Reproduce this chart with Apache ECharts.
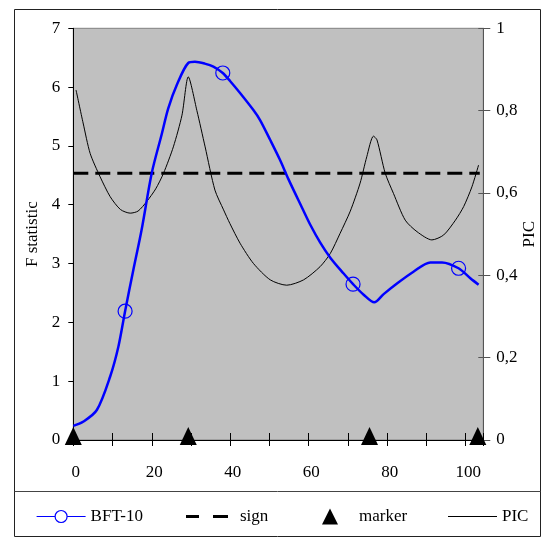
<!DOCTYPE html>
<html>
<head>
<meta charset="utf-8">
<script src="https://cdn.jsdelivr.net/npm/echarts@6/dist/echarts.min.js"></script>
<style>html,body{margin:0;padding:0;background:#fff}#c{width:541px;height:538px}</style>
</head>
<body>
<div id="c"></div>
<script>
// ---- data ----
const bftData = [[0,0.24],[2.5,0.31],[6,0.51],[9.4,1.08],[11.5,1.59],[13.2,2.19],[15.3,2.89],[17.4,3.57],[20,4.54],[22.5,5.19],[24.2,5.64],[26.4,6.04],[29.3,6.41],[31,6.43],[33.5,6.4],[35.7,6.35],[38.1,6.24],[40,6.1],[42.5,5.9],[45.9,5.61],[47.6,5.44],[50.2,5.1],[52.7,4.76],[54.8,4.44],[58.3,3.95],[60.4,3.66],[62.9,3.36],[65.5,3.1],[68.9,2.83],[71.3,2.65],[74,2.47],[76.7,2.34],[79.1,2.48],[82.5,2.66],[86.7,2.86],[91,3.02],[94,3.02],[98.2,2.92],[101.2,2.75],[103.3,2.64]];
const bftMarkerX = [13.2, 38.1, 71.3, 98.2];
const picData = [[0.7,0.85],[2.5,0.77],[4.3,0.696],[6.8,0.64],[9.4,0.591],[12,0.56],[14.5,0.551],[16.5,0.556],[18.7,0.579],[21,0.61],[23,0.648],[25.5,0.712],[27.7,0.789],[29.3,0.882],[31.5,0.80],[33.6,0.712],[36.1,0.607],[38.3,0.559],[39.9,0.526],[42.5,0.478],[45.9,0.429],[50.2,0.389],[54.4,0.376],[58.7,0.389],[62.9,0.421],[65.5,0.453],[68,0.502],[70.6,0.556],[73.1,0.624],[74.8,0.688],[76.5,0.738],[77.4,0.729],[79.5,0.648],[81.6,0.599],[84.6,0.534],[87.6,0.506],[91.4,0.486],[94.4,0.498],[97.4,0.534],[99.5,0.567],[101.6,0.615],[103.3,0.668]];
const signValue = 4.535;
const signX = [0, 103.6];
const markerX = [0, 29.3, 75.5, 103.1];
const xLabels = [0, 20, 40, 60, 80, 100];

// ---- chart ----
const FONT = 'Liberation Serif';
const chart = echarts.init(document.getElementById('c'), null, {renderer:'canvas'});
const gL = 73.3, gT = 28.3, gRx = 483.3, gBy = 440;
const gW = gRx - gL, gH = gBy - gT;

const txt = {fontFamily: FONT, fontSize: 17, color: '#000'};

chart.setOption({
  animation: false,
  backgroundColor: '#fff',
  textStyle: {fontFamily: FONT},
  grid: {left: gL, top: gT, width: gW, height: gH, show: true, outerBoundsMode: 'none', containLabel: false,
         backgroundColor: '#c0c0c0', borderColor: '#808080', borderWidth: 1},
  xAxis: [
    {type: 'value', min: 0, max: 104.5, interval: 10, position: 'bottom',
     axisLine: {show: true, onZero: false, lineStyle: {color: '#000', width: 1}},
     axisTick: {show: true, inside: false, length: 6, lineStyle: {color: '#000'}},
     axisLabel: Object.assign({margin: 24, padding: [0,0,0,5], formatter: v => xLabels.indexOf(v) >= 0 ? String(v) : ''}, txt),
     splitLine: {show: false}},
    {type: 'value', min: 0, max: 104.5, interval: 10, position: 'top', offset: -gH,
     axisLine: {show: false, onZero: false},
     axisTick: {show: true, inside: false, length: 7, lineStyle: {color: '#000'}},
     axisLabel: {show: false}, splitLine: {show: false}}
  ],
  yAxis: [
    {type: 'value', min: 0, max: 7, interval: 1, position: 'left',
     name: 'F statistic', nameLocation: 'middle', nameGap: 32, nameRotate: 90, nameMoveOverlap: false,
     nameTextStyle: txt,
     axisLine: {show: true, onZero: false, lineStyle: {color: '#000'}},
     axisTick: {show: true, length: 5, lineStyle: {color: '#000'}},
     axisLabel: Object.assign({margin: 13}, txt),
     splitLine: {show: false}},
    {type: 'value', min: 0, max: 1, interval: 0.2, position: 'right',
     name: 'PIC', nameLocation: 'middle', nameGap: 38, nameRotate: 90, nameMoveOverlap: false,
     nameTextStyle: txt,
     axisLine: {show: true, onZero: false, lineStyle: {color: '#555'}},
     axisTick: {show: true, length: 7, lineStyle: {color: '#555'}},
     axisLabel: Object.assign({margin: 13, formatter: v => String(+v.toFixed(1)).replace('.', ',')}, txt),
     splitLine: {show: false}},
    {type: 'value', min: 0, max: 1, interval: 0.2, position: 'left', offset: -gW,
     axisLine: {show: false, onZero: false},
     axisTick: {show: true, inside: false, length: 5, lineStyle: {color: '#555'}},
     axisLabel: {show: false}, splitLine: {show: false}}
  ],
  legend: [
    {data: ['BFT-10'], left: 31, top: 503, itemWidth: 49, itemHeight: 15, textStyle: txt,
     itemStyle: {color: '#fff', borderColor: '#0000ff', borderWidth: 1.2},
     lineStyle: {color: '#0000ff', width: 1.2}},
    {data: [{name: 'sign', icon: 'path://M0,0h13v3h-13z M27,0h15v3h-15z'}], left: 181, top: 503,
     itemWidth: 42, itemHeight: 3, textStyle: Object.assign({padding: [0,0,0,7]}, txt),
     itemStyle: {color: '#000', borderWidth: 0}},
    {data: ['marker'], left: 317, top: 503, itemWidth: 16, itemHeight: 16,
     textStyle: Object.assign({padding: [0,0,0,16]}, txt),
     itemStyle: {color: '#000', opacity: 1}},
    {data: [{name: 'PIC', icon: 'rect'}], left: 443, top: 503, itemWidth: 49, itemHeight: 1,
     textStyle: txt, itemStyle: {color: '#000', borderWidth: 0}}
  ],
  series: [
    {name: 'PIC', type: 'line', xAxisIndex: 0, yAxisIndex: 1, data: picData,
     showSymbol: false, symbol: 'none', smooth: 0.25,
     lineStyle: {color: '#000', width: 1}, itemStyle: {color: '#000'}, z: 2},
    {name: 'sign', type: 'line', xAxisIndex: 0, yAxisIndex: 0,
     data: signX.map(x => [x, signValue]), symbol: 'none',
     lineStyle: {color: '#000', width: 3, type: [15, 7]}, itemStyle: {color: '#000'}, z: 3},
    {name: 'BFT-10', type: 'line', xAxisIndex: 0, yAxisIndex: 0,
     data: bftData.map(p => bftMarkerX.indexOf(p[0]) >= 0 ? {value: p} : {value: p, symbol: 'none'}),
     symbol: 'circle', symbolSize: 14, showSymbol: true, smooth: 0.3,
     lineStyle: {color: '#0000ff', width: 2.5},
     itemStyle: {color: 'rgba(0,0,0,0)', borderColor: '#0000ff', borderWidth: 1.2},
     z: 4},
    {name: 'marker', type: 'scatter', xAxisIndex: 0, yAxisIndex: 0,
     data: markerX.map(x => [x, 0]), symbol: 'triangle', symbolSize: [17, 18],
     symbolOffset: [0, -4], clip: false,
     itemStyle: {color: '#000', opacity: 1}, z: 5}
  ],
  graphic: [
    {type: 'rect', shape: {x: 14.5, y: 9.5, width: 526, height: 527}, silent: true,
     style: {fill: null, stroke: '#222', lineWidth: 1}},
    {type: 'line', shape: {x1: 14.5, y1: 491.5, x2: 540.5, y2: 491.5}, silent: true,
     style: {stroke: '#444', lineWidth: 1}}
  ]
});
</script>
</body>
</html>
